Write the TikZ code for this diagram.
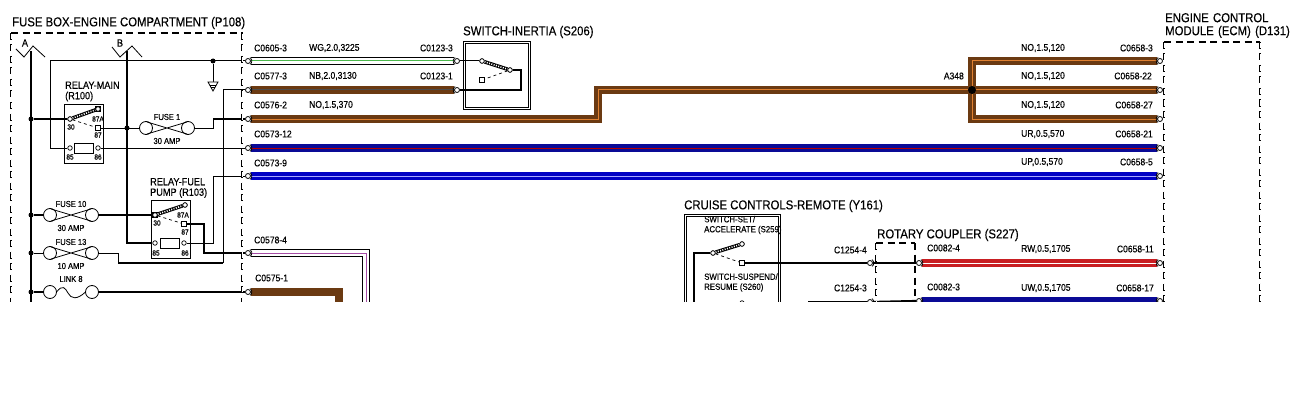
\documentclass[tikz,border=0pt]{standalone}
\usepackage{fontspec}
\usetikzlibrary{backgrounds}
\newfontfamily\narrowsans[FakeStretch=0.88,FakeBold=0.35]{Liberation Sans}
\definecolor{wirebrown}{HTML}{6B3A12}
\definecolor{tracerorange}{HTML}{E08030}
\definecolor{wireblue}{HTML}{0A0A96}
\definecolor{brightblue}{HTML}{0000C4}
\definecolor{wirered}{HTML}{C81E22}
\tikzset{
  thinline/.style={draw=black,line width=1pt},
  heavyline/.style={draw=black,line width=2.2pt},
  wire/.style 2 args={draw=#1,line width=8pt,postaction={draw=#2,line width=1pt}},
  whitewire/.style={preaction={draw=black,line width=8pt},draw=white,line width=6pt,postaction={draw=#1,line width=1pt}},
  pin/.style={circle,draw=black,line width=.8pt,fill=white,inner sep=0pt,minimum size=5pt},
  contact/.style={circle,draw=black,line width=.7pt,fill=white,inner sep=0pt,minimum size=4.5pt},
  contactsq/.style={rectangle,draw=black,line width=.7pt,fill=white,inner sep=0pt,minimum size=4.5pt},
  lbl/.style={font=\narrowsans\fontsize{9.7}{10}\selectfont,inner sep=0pt,anchor=west},
  lblr/.style={lbl,anchor=east},
  smalltxt/.style={font=\narrowsans\fontsize{10.4}{10.5}\selectfont,inner sep=0pt},
  fusetxt/.style={font=\narrowsans\fontsize{8.6}{9}\selectfont,inner sep=0pt},
  switchtxt/.style={font=\narrowsans\fontsize{8.9}{10}\selectfont,inner sep=0pt,anchor=west,align=left},
  tinytxt/.style={font=\narrowsans\fontsize{7.4}{8}\selectfont,inner sep=0pt},
  ttl/.style={font=\narrowsans\fontsize{12.9}{13}\selectfont,inner sep=0pt,anchor=west,align=left},
  harddash/.style={draw=black,line width=1.8pt,dash pattern=on 7pt off 4.5pt},
  softdash/.style={draw=black,line width=2.9pt,dash pattern=on 7pt off 4.5pt,
    postaction={draw=white,line width=1pt,dash pattern=on 5.4pt off 6.1pt,dash phase=-.8pt}},
  swarm/.style={draw=black,line width=3.6pt,postaction={draw=white,line width=1.6pt,dash pattern=on 1pt off 1.4pt}},
  fuse/.pic={
    \draw[line width=.8pt,fill=white] (-21,0) circle[radius=6.5];
    \draw[line width=.8pt,fill=white] (21,0) circle[radius=6.5];
    \draw[line width=.8pt] (-20,-6) -- (20,6) (-20,6) -- (20,-6);
    \coordinate (-l) at (-27.5,0);
    \coordinate (-r) at (27.5,0);
  },
  fuselink/.pic={
    \draw[line width=.8pt,fill=white] (-21,0) circle[radius=6.5];
    \draw[line width=.8pt,fill=white] (21,0) circle[radius=6.5];
    \draw[line width=.8pt] (-14.5,0) .. controls (-8,-8) and (-6,-4) .. (-3,1) .. controls (0,7) and (6,8) .. (14.5,0);
    \coordinate (-l) at (-27.5,0);
    \coordinate (-r) at (27.5,0);
  }
}
\begin{document}
\begin{tikzpicture}[x=1pt,y=-1pt]
  \useasboundingbox (0,0) rectangle (1302,420);

  % dashed housings
  \draw[harddash] (11,33) -- (243,33);
  \draw[softdash] (11,33) -- (11,312);
  \draw[softdash] (242,33) -- (242,312);
  \draw[harddash] (1164,42) -- (1260,42);
  \draw[softdash] (1164,42) -- (1164,312);
  \draw[softdash] (1260,42) -- (1260,312);
  \draw[harddash] (876,243) -- (915,243);
  \draw[softdash] (876,243) -- (876,312);
  \draw[harddash] (915,243) -- (915,312);

  % connector pins, left side and right side of the wires
  \foreach \name/\x/\y in {c0605/248/61,c0577/248/90,c0576/248/119,c0573a/248/148,c0573b/248/176,
    c0578/248/253,c0575/248/292,c1254a/870/263,c1254b/870/302,c0082a/919/263,c0082b/919/301}{
    \node[pin] (\name) at (\x,\y) {};
    \draw[line width=.7pt] (\x,\y) ++(2,-3.5) arc (-60:60:4);
  }
  \foreach \name/\x/\y in {c0123a/457/61,c0123b/457/90,c0658a/1160/61,c0658b/1160/90,c0658c/1160/119,
    c0658d/1160/148,c0658e/1160/176,c0658f/1160/263,c0658g/1160/301}{
    \node[pin] (\name) at (\x,\y) {};
    \draw[line width=.7pt] (\x,\y) ++(-2,-3.5) arc (240:120:4);
  }

  % relay main
  \draw[line width=.9pt] (64,104) rectangle (103,163);
  \node[contact] (rm30) at (70,119) {};
  \node[contactsq] (rm87a) at (98,109) {};
  \node[contactsq] (rm87) at (98,128) {};
  \node[contact] (rm85) at (70,148) {};
  \node[contact] (rm86) at (98,148) {};
  \draw[line width=.8pt,fill=white] (74,143) rectangle (93,153);

  % relay fuel pump
  \draw[line width=.9pt] (151,200) rectangle (190,258);
  \node[contactsq] (rf30) at (155,215) {};
  \node[contact] (rf87a) at (185,205) {};
  \node[contactsq] (rf87) at (184,224) {};
  \node[contact] (rf85) at (155,243) {};
  \node[contact] (rf86) at (184,243) {};
  \draw[line width=.8pt,fill=white] (160,238) rectangle (179,248);

  % switches
  \draw[line width=1pt] (463,42) rectangle (530,109) (465,44) rectangle (528,107);
  \node[contact] (si1) at (482,61) {};
  \node[contact] (si2) at (510,70) {};
  \node[contactsq] (si3) at (482,80) {};
  \node[contact] (cc30) at (713,253) {};
  \node[contact] (cc87a) at (742,244) {};
  \node[contactsq] (cc87) at (742,263) {};
  \node[contact] (cd87a) at (742,303) {};

  \pic (fuseone) at (167,128) {fuse};
  \pic (fuseten) at (71,215) {fuse};
  \pic (fusethirteen) at (71,253) {fuse};
  \pic (linkeight) at (71,292) {fuselink};

  \node[circle,fill=black,inner sep=0pt,minimum size=8pt] (a348) at (972,90) {};
  \node[circle,fill=black,inner sep=0pt,minimum size=5pt] (dota) at (31,119) {};
  \node[circle,fill=black,inner sep=0pt,minimum size=5pt] (dotb) at (127,128) {};
  \node[circle,fill=black,inner sep=0pt,minimum size=5pt] (dotc) at (213,61) {};
  \node[circle,fill=black,inner sep=0pt,minimum size=5pt] (dotd) at (31,215) {};
  \node[circle,fill=black,inner sep=0pt,minimum size=5pt] (dote) at (31,253) {};
  \node[circle,fill=black,inner sep=0pt,minimum size=5pt] (dotf) at (31,292) {};

  \coordinate (busatop) at (31,51);
  \coordinate (busbtop) at (127,51);
  \coordinate (offpage) at (0,312);

  \begin{scope}[on background layer]
    % harness wires
    \draw[whitewire=green!60!black!70] (c0605.east) -- (c0123a.west);
    \draw[wire={wirebrown}{black!70}] (c0577.east) -- (c0123b.west);
    \draw[wire={wirebrown}{tracerorange}] (c0576.east) -- (598,119) -- (598,90) -- (a348.center);
    \draw[wire={wirebrown}{tracerorange}] (c0658a.west) -- (972,61) -- (972,119) -- (c0658c.west);
    \draw[wire={wirebrown}{tracerorange}] (a348.center) -- (c0658b.west);
    \draw[wire={wireblue}{red!70!black}] (c0573a.east) -- (c0658d.west);
    \draw[wire={brightblue}{blue!35}] (c0573b.east) -- (c0658e.west);
    \draw[whitewire=violet!70] (c0578.east) -- (366,253) -- (366,312);
    \draw[wire={wirebrown}{wirebrown}] (c0575.east) -- (339,292) -- (339,312);
    \draw[wire={wirered}{white}] (c0082a.east) -- (c0658f.west);
    \draw[wire={wireblue}{wireblue}] (c0082b.east) -- (c0658g.west);

    % inside the fuse box
    \draw[heavyline] (busatop) -- (31,312);
    \draw[heavyline] (busbtop) -- (127,243) -- (rf85.west);
    \draw[heavyline] (dota) -- (rm30.west);
    \draw[thinline] (c0605.west) -- (50,61) -- (50,148) -- (rm85.west);
    \draw[thinline] (rm86.east) -- (c0573a.west);
    \draw[thinline] (rm87.east) -- (fuseone-l);
    \draw[thinline] (fuseone-r) -- (213,128) -- (213,119);
    \draw[heavyline] (213,119) -- (c0576.west);
    \draw[thinline] (dotc) -- (213,83);
    \draw[thinline] (c0577.west) -- (223,90) -- (223,263);
    \draw[heavyline] (223,263) -- (118,263);
    \draw[thinline] (118,263) -- (118,253) -- (fusethirteen-r);
    \draw[heavyline] (dotd) -- (fuseten-l);
    \draw[heavyline] (fuseten-r) -- (rf30.west);
    \draw[thinline] (dote) -- (fusethirteen-l);
    \draw[heavyline] (dotf) -- (linkeight-l);
    \draw[heavyline] (linkeight-r) -- (c0575.west);
    \draw[thinline] (rf86.east) -- (213,243) -- (213,176) -- (c0573b.west);
    \draw[line width=1.4pt] (rf87.east) -- (204,224) -- (204,253) -- (c0578.west);

    % inside the switches
    \draw[thinline] (c0123a.east) -- (si1.west);
    \draw[heavyline] (c0123b.east) -- (521,90) -- (521,70) -- (si2.east);
    \draw[line width=1.3pt] (cc30.west) -- (694,253) -- (694,312);
    \draw[heavyline] (cc87.east) -- (c1254a.west);
    \draw[heavyline] (c1254a.east) -- (c0082a.west);
    \draw[heavyline] (808,302) -- (c1254b.west);
    \draw[heavyline] (c1254b.east) -- (c0082b.west);
  \end{scope}

  % relay contact arms
  \draw[swarm] (rm30) -- (rm87a);
  \draw[dashed,line width=.7pt] (rm30) -- (rm87);
  \draw[swarm] (rf30) -- (rf87a);
  \draw[dashed,line width=.7pt] (rf30) -- (rf87);
  \draw[swarm] (si1) -- (si2);
  \draw[dashed,line width=.7pt] (si2) -- (si3);
  \draw[swarm] (cc30) -- (cc87a);
  \draw[dashed,line width=.7pt] (cc30) -- (cc87);
  \foreach \c in {rm30,rm87a,rf30,rf87a,si1,si2,cc30,cc87a}{
    \node[contact] at (\c) {};
  }

  % ground symbol
  \draw[line width=.8pt,fill=white] (208,82) -- (218,82) -- (213,91) -- cycle;
  \draw[line width=.8pt] (210,85) -- (216,85) (211,87.5) -- (215,87.5);

  % remote switch housing
  \draw[line width=1pt] (684,312) |- (780,214) -- (780,312);
  \draw[line width=.8pt] (686,312) |- (778,216) -- (778,312);

  % bus chevrons
  \draw[line width=.8pt] (16,49) -- (24,57) -- (33,46) -- (45,57);
  \draw[line width=.8pt] (112,47) -- (120,57) -- (132,46) -- (142,57);
  \node[smalltxt] (busa) at (25,43) {A};
  \node[smalltxt] (busb) at (120,43) {B};

  % titles
  \node[ttl] (fusebox) at (12,23) {FUSE BOX-ENGINE COMPARTMENT (P108)};
  \node[ttl] (inertia) at (463,32) {SWITCH-INERTIA (S206)};
  \node[ttl,text width=130pt] (ecm) at (1165,25.5) {ENGINE CONTROL\\MODULE (ECM) (D131)};
  \node[ttl] (cruise) at (684,206) {CRUISE CONTROLS-REMOTE (Y161)};
  \node[ttl] (rotary) at (877,235) {ROTARY COUPLER (S227)};

  % wire labels
  \node[lbl] (l1) at (254,48) {C0605-3};
  \node[lbl] (l2) at (309,48) {WG,2.0,3225};
  \node[lblr] (l3) at (453,48) {C0123-3};
  \node[lbl] (l4) at (254,76) {C0577-3};
  \node[lbl] (l5) at (309,76) {NB,2.0,3130};
  \node[lblr] (l6) at (453,76) {C0123-1};
  \node[lbl] (l7) at (254,105) {C0576-2};
  \node[lbl] (l8) at (309,105) {NO,1.5,370};
  \node[lbl] (l9) at (254,134) {C0573-12};
  \node[lbl] (l10) at (254,163) {C0573-9};
  \node[lbl] (l11) at (254,240) {C0578-4};
  \node[lbl] (l12) at (255,278) {C0575-1};
  \node[lblr] (l13) at (964,76) {A348};
  \node[lbl] (r1) at (1021,48) {NO,1.5,120};
  \node[lbl] (r2) at (1021,76) {NO,1.5,120};
  \node[lbl] (r3) at (1021,105) {NO,1.5,120};
  \node[lbl] (r4) at (1021,134) {UR,0.5,570};
  \node[lbl] (r5) at (1021,162) {UP,0.5,570};
  \node[lblr] (r6) at (1153,48) {C0658-3};
  \node[lblr] (r7) at (1152,76) {C0658-22};
  \node[lblr] (r8) at (1153,105) {C0658-27};
  \node[lblr] (r9) at (1153,134) {C0658-21};
  \node[lblr] (r10) at (1153,162) {C0658-5};
  \node[lbl] (r11) at (1021,249) {RW,0.5,1705};
  \node[lbl] (r12) at (1021,288) {UW,0.5,1705};
  \node[lblr] (r13) at (1154,249) {C0658-11};
  \node[lblr] (r14) at (1154,288) {C0658-17};
  \node[lbl] (r15) at (927,248) {C0082-4};
  \node[lbl] (r16) at (927,287) {C0082-3};
  \node[lblr] (r17) at (867,250) {C1254-4};
  \node[lblr] (r18) at (867,288) {C1254-3};

  % component labels
  \node[smalltxt,anchor=west,align=left] (relaymain) at (65,91.5) {RELAY-MAIN\\(R100)};
  \node[smalltxt,anchor=west,align=left] (relayfuel) at (150,188) {RELAY-FUEL\\PUMP (R103)};
  \node[switchtxt] (swset) at (704,225) {SWITCH-SET/\\ACCELERATE (S259)};
  \node[switchtxt] (swsus) at (704,282.5) {SWITCH-SUSPEND/\\RESUME (S260)};
  \node[fusetxt] (f1a) at (167,117) {FUSE 1};
  \node[fusetxt] (f1b) at (167,141) {30 AMP};
  \node[fusetxt] (f2a) at (71,204) {FUSE 10};
  \node[fusetxt] (f2b) at (71,228) {30 AMP};
  \node[fusetxt] (f3a) at (71,242) {FUSE 13};
  \node[fusetxt] (f3b) at (71,266) {10 AMP};
  \node[fusetxt] (f4a) at (71,279) {LINK 8};
  \node[tinytxt] (t1) at (71,127) {30};
  \node[tinytxt] (t2) at (98,119) {87A};
  \node[tinytxt] (t3) at (98,135) {87};
  \node[tinytxt] (t4) at (70,157) {85};
  \node[tinytxt] (t5) at (98,157) {86};
  \node[tinytxt] (t6) at (157,223) {30};
  \node[tinytxt] (t7) at (183,215) {87A};
  \node[tinytxt] (t8) at (185,232) {87};
  \node[tinytxt] (t9) at (156,253) {85};
  \node[tinytxt] (t10) at (185,253) {86};

  % page is cut off below the harness
  \fill[white] (offpage) ++(0,-10) rectangle (1302,420);
\end{tikzpicture}
\end{document}
